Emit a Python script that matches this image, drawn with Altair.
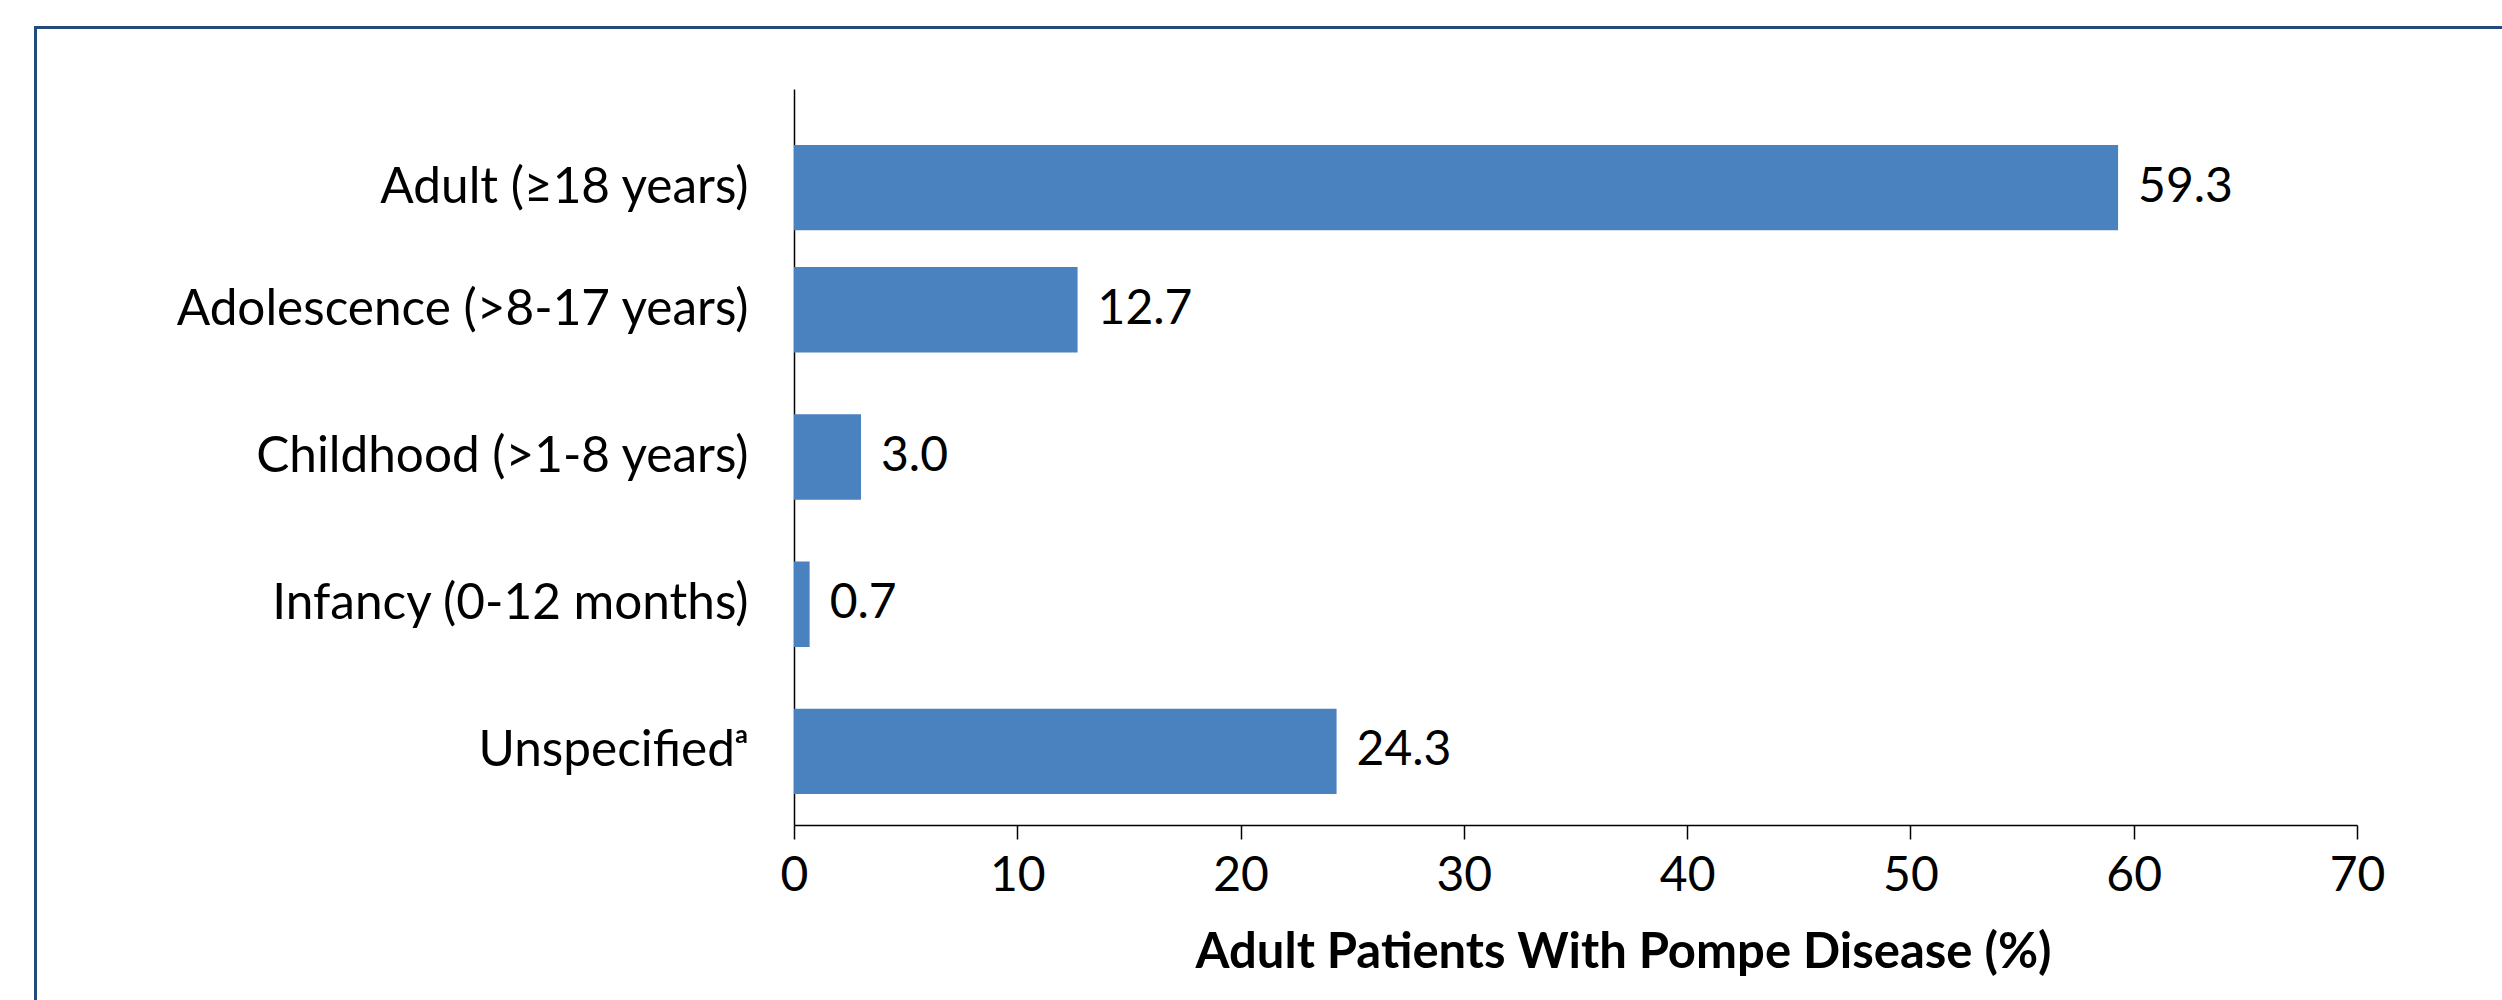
import altair as alt
import pandas as pd

categories = [
    "Adult (≥18 years)",
    "Adolescence (>8-17 years)",
    "Childhood (>1-8 years)",
    "Infancy (0-12 months)",
    "Unspecifiedᵃ",
]
values = [59.3, 12.7, 3.0, 0.7, 24.3]
x_ticks = [0, 10, 20, 30, 40, 50, 60, 70]
x_title = "Adult Patients With Pompe Disease (%)"

df = pd.DataFrame({"category": categories, "value": values})

FONT = "Lato"
BAR = "#4A81BF"
NAVY = "#234A7A"
ADULT = categories[0]
SHIFT = 25

x_enc = alt.X(
    "value:Q",
    title=x_title,
    scale=alt.Scale(domain=[0, 70], nice=False),
    axis=alt.Axis(
        values=x_ticks, grid=False, format="d",
        tickSize=14, tickColor="black", tickWidth=1.5,
        domainColor="black", domainWidth=1.5,
        labelFont=FONT, labelFontSize=48, labelColor="black", labelPadding=13,
        labelFlush=False, labelOverlap=False,
        titleFont=FONT, titleFontSize=49, titleFontWeight="bold", titleColor="black",
        titleX=829, titleY=142, titleAlign="center", titleBaseline="alphabetic",
    ),
)
y_enc = alt.Y(
    "category:N",
    sort=categories,
    title=None,
    scale=alt.Scale(paddingInner=0.42, paddingOuter=0.21),
    axis=alt.Axis(
        ticks=False, grid=False,
        domainColor="black", domainWidth=1.5,
        labelFont=FONT, labelFontSize=49.5, labelColor="black", labelPadding=46,
        labelLimit=0, labelOverlap=False,
        labelOffset={"condition": {"test": f"datum.value == '{ADULT}'", "value": SHIFT}, "value": 0},
    ),
)

base = alt.Chart(df)
is_adult = f"datum.category == '{ADULT}'"
not_adult = f"datum.category != '{ADULT}'"

bars = base.transform_filter(not_adult).mark_bar(color=BAR).encode(x=x_enc, y=y_enc)
bars_adult = base.transform_filter(is_adult).mark_bar(color=BAR, yOffset=SHIFT).encode(x=x_enc, y=y_enc)

txt_kw = dict(align="left", baseline="middle", dx=20, font=FONT, fontSize=48, color="black")
texts = base.transform_filter(not_adult).mark_text(**txt_kw).encode(
    x=x_enc, y=y_enc, text=alt.Text("value:Q", format=".1f"))
texts_adult = base.transform_filter(is_adult).mark_text(yOffset=SHIFT, **txt_kw).encode(
    x=x_enc, y=y_enc, text=alt.Text("value:Q", format=".1f"))

frame = alt.Chart(alt.Data(values=[{}])).mark_rect(
    filled=False, stroke=NAVY, strokeWidth=3
).encode(
    x=alt.value(35.5 - 794), x2=alt.value(2700 - 794),
    y=alt.value(27.5 - 89), y2=alt.value(1200 - 89),
)

chart = alt.layer(frame, bars, bars_adult, texts, texts_adult).properties(
    width=1563,
    height=736,
    autosize=alt.AutoSizeParams(type="none"),
    padding={"left": 794, "top": 89, "right": 145, "bottom": 175},
    background="white",
).configure_view(stroke="transparent")

chart.save("out.html", embed_options={"renderer": "svg", "actions": False})
